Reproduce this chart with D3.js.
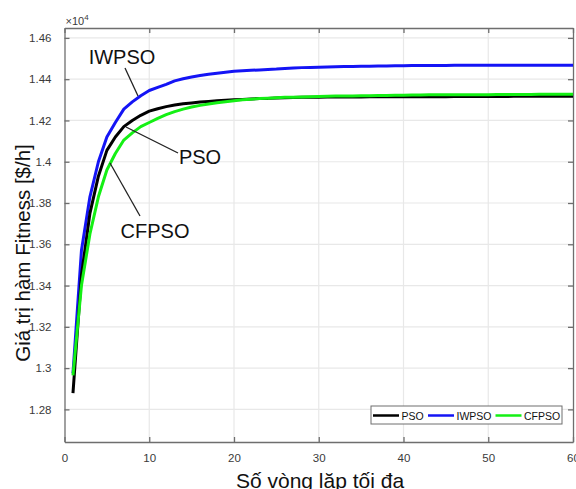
<!DOCTYPE html>
<html>
<head>
<meta charset="utf-8">
<script src="https://cdn.jsdelivr.net/npm/d3@7"></script>
<style>
  body { margin: 0; background: #fff; }
  text { font-family: "Liberation Sans", Arial, sans-serif; }
</style>
</head>
<body>
<div id="chart"></div>
<script>
var width = 576;
var height = 489;

// iteration number, 1..60
var iterations = d3.range(1, 61);

// fitness values [$/h]
var psoValues = [
  12879, 13450, 13750, 13930, 14055, 14120, 14170, 14200, 14225, 14245,
  14257, 14267, 14275, 14281, 14285, 14289, 14292, 14295, 14298, 14300,
  14302, 14304, 14306, 14307, 14309, 14310, 14311, 14312, 14313, 14313,
  14314, 14314, 14314, 14314, 14314, 14315, 14315, 14315, 14315, 14315,
  14315, 14315, 14315, 14315, 14315, 14316, 14316, 14316, 14316, 14316,
  14316, 14316, 14317, 14317, 14317, 14317, 14317, 14317, 14317, 14317
];
var iwpsoValues = [
  12975, 13570, 13830, 14000, 14120, 14190, 14255, 14290, 14320, 14345,
  14360, 14375, 14392, 14402, 14411, 14418, 14424, 14429, 14434, 14438,
  14441, 14443, 14445, 14447, 14449, 14452, 14454, 14456, 14457, 14458,
  14459, 14460, 14461, 14462, 14463, 14463, 14464, 14464, 14465, 14465,
  14466, 14466, 14466, 14466, 14466, 14467, 14467, 14467, 14467, 14467,
  14468, 14468, 14468, 14468, 14468, 14468, 14468, 14468, 14468, 14468
];
var cfpsoValues = [
  12965, 13400, 13650, 13830, 13960, 14040, 14105, 14140, 14170, 14190,
  14210, 14228, 14243, 14255, 14265, 14273, 14280, 14286, 14291, 14296,
  14300, 14303, 14306, 14308, 14310, 14312, 14313, 14314, 14315, 14316,
  14317, 14318, 14318, 14319, 14320, 14320, 14321, 14321, 14322, 14322,
  14323, 14323, 14324, 14324, 14324, 14325, 14325, 14325, 14325, 14325,
  14326, 14326, 14326, 14326, 14326, 14327, 14327, 14327, 14327, 14327
];

var seriesNames = ['PSO', 'IWPSO', 'CFPSO'];
var seriesColors = ['#000000', '#1414f5', '#14f014'];

var xTicks = [0, 10, 20, 30, 40, 50, 60];
var yTicks = [12800, 13000, 13200, 13400, 13600, 13800, 14000, 14200, 14400, 14600];

var margin = {left: 64.5, right: 3, top: 28, bottom: 47};

var svg = d3.select("#chart")
            .append("svg")
            .attr("width", width)
            .attr("height", height);

var x = d3.scaleLinear()
    .domain([0, 60])
    .range([margin.left, width - margin.right]);

var y = d3.scaleLinear()
    .domain([12642, 14648])
    .range([height - margin.bottom, margin.top]);

// grid
svg.append("g")
    .selectAll("line")
    .data(xTicks.slice(1, -1))
    .enter()
    .append("line")
    .attr("x1", function(d) { return x(d); })
    .attr("x2", function(d) { return x(d); })
    .attr("y1", margin.top)
    .attr("y2", height - margin.bottom)
    .attr("stroke", "#e8e8e8")
    .attr("stroke-width", 1.2);

svg.append("g")
    .selectAll("line")
    .data(yTicks)
    .enter()
    .append("line")
    .attr("x1", margin.left)
    .attr("x2", width - margin.right)
    .attr("y1", function(d) { return y(d); })
    .attr("y2", function(d) { return y(d); })
    .attr("stroke", "#e8e8e8")
    .attr("stroke-width", 1.2);

// axes
var fmtY = function(d) { return d3.format(".2~f")(d / 10000); };

var xAxis = svg.append("g")
    .attr("transform", "translate(0," + (height - margin.bottom) + ")")
    .call(d3.axisBottom(x).tickValues(xTicks).tickSizeInner(-5).tickSizeOuter(0).tickPadding(12));

var xAxisTop = svg.append("g")
    .attr("transform", "translate(0," + margin.top + ")")
    .call(d3.axisTop(x).tickValues(xTicks).tickSizeInner(-5).tickSizeOuter(0).tickFormat(""));

var yAxis = svg.append("g")
    .attr("transform", "translate(" + margin.left + ",0)")
    .call(d3.axisLeft(y).tickValues(yTicks).tickSizeInner(-5).tickSizeOuter(0).tickPadding(13).tickFormat(fmtY));

var yAxisRight = svg.append("g")
    .attr("transform", "translate(" + (width - margin.right) + ",0)")
    .call(d3.axisRight(y).tickValues(yTicks).tickSizeInner(-5).tickSizeOuter(0).tickFormat(""));

[xAxis, xAxisTop, yAxis, yAxisRight].forEach(function(a) {
    a.select(".domain").attr("stroke", "#6e6e6e").attr("stroke-width", 1.3);
    a.selectAll(".tick line").attr("stroke", "#6e6e6e").attr("stroke-width", 1.3);
    a.selectAll(".tick text")
        .attr("fill", "#3a3a3a")
        .style("font-size", "11.5px")
        .style("font-family", "Liberation Sans, Arial, sans-serif");
});

// lines
var allSeries = [psoValues, iwpsoValues, cfpsoValues];

var line = d3.line()
    .x(function(d, i) { return x(iterations[i]); })
    .y(function(d) { return y(d); });

var drawOrder = [1, 0, 2];
drawOrder.forEach(function(k) {
    svg.append("path")
        .datum(allSeries[k])
        .attr("fill", "none")
        .attr("stroke", seriesColors[k])
        .attr("stroke-width", 3)
        .attr("stroke-linejoin", "round")
        .attr("d", line);
});

// exponent label
var expo = svg.append("text")
    .attr("x", margin.left + 1)
    .attr("y", 25)
    .attr("fill", "#3a3a3a")
    .style("font-size", "11px");
expo.append("tspan").text("\u00d710");
expo.append("tspan").attr("dy", -5).style("font-size", "8px").text("4");

// annotations
var annotations = [
    {label: 'IWPSO', tx: 122, ty: 64, ax: 125, ay: 68, bx: 138, by: 96},
    {label: 'PSO', tx: 200, ty: 164, ax: 178, ay: 153, bx: 126, by: 127},
    {label: 'CFPSO', tx: 155, ty: 238, ax: 140, ay: 216, bx: 110, by: 163}
];

svg.append("g")
    .selectAll("line")
    .data(annotations)
    .enter()
    .append("line")
    .attr("x1", function(d) { return d.ax; })
    .attr("y1", function(d) { return d.ay; })
    .attr("x2", function(d) { return d.bx; })
    .attr("y2", function(d) { return d.by; })
    .attr("stroke", "#222")
    .attr("stroke-width", 1.3);

svg.append("g")
    .selectAll("text")
    .data(annotations)
    .enter()
    .append("text")
    .attr("x", function(d) { return d.tx; })
    .attr("y", function(d) { return d.ty; })
    .attr("text-anchor", "middle")
    .attr("fill", "#111")
    .style("font-size", "20px")
    .text(function(d) { return d.label; });

// legend
var legend = svg.append("g").attr("transform", "translate(371,406)");
legend.append("rect")
    .attr("width", 191)
    .attr("height", 18)
    .attr("fill", "#fff")
    .attr("stroke", "#6e6e6e")
    .attr("stroke-width", 1);

var legendX = [2, 57, 124.5];
seriesNames.forEach(function(name, i) {
    legend.append("line")
        .attr("x1", legendX[i])
        .attr("x2", legendX[i] + 26)
        .attr("y1", 9.5)
        .attr("y2", 9.5)
        .attr("stroke", seriesColors[i])
        .attr("stroke-width", 2.5);
    legend.append("text")
        .attr("x", legendX[i] + 28.5)
        .attr("y", 13.5)
        .attr("fill", "#111")
        .style("font-size", "10.5px")
        .text(name);
});

// axis titles
svg.append("text")
    .attr("x", 320)
    .attr("y", 488)
    .attr("text-anchor", "middle")
    .attr("fill", "#111")
    .style("font-size", "21px")
    .text("Số vòng lặp tối đa");

svg.append("text")
    .attr("transform", "translate(30," + 253 + ") rotate(-90)")
    .attr("text-anchor", "middle")
    .attr("fill", "#111")
    .style("font-size", "20.5px")
    .text("Giá trị hàm Fitness [$/h]");
</script>
</body>
</html>
